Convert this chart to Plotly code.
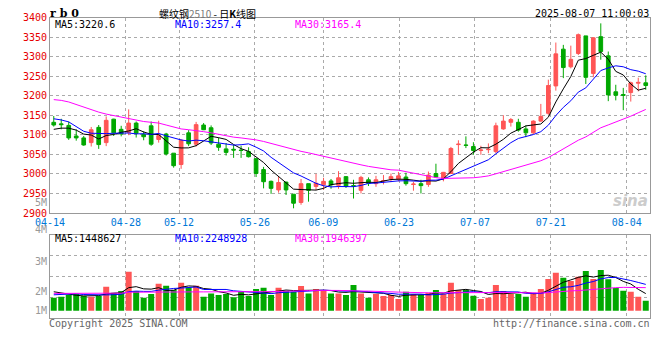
import plotly.graph_objects as go

DATES = [
    "2025-04-14", "2025-04-15", "2025-04-16", "2025-04-17", "2025-04-18", "2025-04-21", "2025-04-22",
    "2025-04-23", "2025-04-24", "2025-04-25", "2025-04-28", "2025-04-29", "2025-04-30",
    "2025-05-06", "2025-05-07", "2025-05-08", "2025-05-09", "2025-05-12", "2025-05-13", "2025-05-14",
    "2025-05-15", "2025-05-16", "2025-05-19", "2025-05-20", "2025-05-21", "2025-05-22", "2025-05-23",
    "2025-05-26", "2025-05-27", "2025-05-28", "2025-05-29", "2025-05-30",
    "2025-06-03", "2025-06-04", "2025-06-05", "2025-06-06", "2025-06-09", "2025-06-10", "2025-06-11",
    "2025-06-12", "2025-06-13", "2025-06-16", "2025-06-17", "2025-06-18", "2025-06-19", "2025-06-20",
    "2025-06-23", "2025-06-24", "2025-06-25", "2025-06-26", "2025-06-27", "2025-06-30",
    "2025-07-01", "2025-07-02", "2025-07-03", "2025-07-04", "2025-07-07", "2025-07-08", "2025-07-09",
    "2025-07-10", "2025-07-11", "2025-07-14", "2025-07-15", "2025-07-16", "2025-07-17", "2025-07-18",
    "2025-07-21", "2025-07-22", "2025-07-23", "2025-07-24", "2025-07-25", "2025-07-28", "2025-07-29",
    "2025-07-30", "2025-07-31", "2025-08-01", "2025-08-04", "2025-08-05", "2025-08-06", "2025-08-07",
]

OPEN = [3132, 3128, 3124, 3097, 3092, 3080, 3119, 3080, 3140, 3114,
        3106, 3130, 3101, 3123, 3088, 3102, 3053, 3024, 3105, 3076,
        3125, 3118, 3076, 3064, 3063, 3061, 3057, 3039, 3011, 2981,
        2959, 2979, 2948, 2927, 2975, 2968, 2972, 2982, 2971, 2993,
        2970, 2958, 2985, 2975, 2982, 2987, 2987, 2992, 2973, 2975,
        2973, 3001, 2988, 3001, 3075, 3074, 3070, 3060, 3062, 3057,
        3115, 3132, 3132, 3115, 3105, 3135, 3155, 3225, 3319, 3274,
        3308, 3353, 3257, 3351, 3302, 3210, 3203, 3208, 3232, 3233]
HIGH = [3148, 3141, 3134, 3114, 3097, 3120, 3125, 3147, 3141, 3123,
        3165, 3134, 3109, 3134, 3136, 3105, 3053, 3089, 3112, 3133,
        3130, 3124, 3093, 3079, 3074, 3072, 3068, 3039, 3018, 2983,
        2994, 2980, 2948, 2987, 2975, 3000, 2990, 2987, 3007, 2994,
        2985, 2995, 2991, 2995, 2997, 3001, 3005, 3003, 2980, 2985,
        3006, 3026, 3005, 3069, 3086, 3096, 3081, 3072, 3078, 3131,
        3150, 3143, 3141, 3124, 3137, 3179, 3241, 3336, 3330, 3328,
        3359, 3353, 3350, 3385, 3313, 3228, 3220, 3236, 3246, 3252]
LOW = [3121, 3114, 3087, 3085, 3072, 3070, 3064, 3071, 3097, 3096,
       3099, 3093, 3086, 3072, 3080, 3047, 3016, 3013, 3071, 3070,
       3112, 3074, 3059, 3047, 3041, 3041, 3042, 2992, 2963, 2949,
       2952, 2946, 2912, 2921, 2929, 2959, 2959, 2962, 2962, 2964,
       2937, 2950, 2969, 2967, 2973, 2979, 2981, 2970, 2957, 2950,
       2967, 2992, 2981, 3000, 3049, 3066, 3049, 3049, 3053, 3053,
       3113, 3121, 3108, 3094, 3102, 3133, 3151, 3213, 3245, 3270,
       3304, 3230, 3247, 3292, 3186, 3188, 3163, 3185, 3211, 3215]
CLOSE = [3125, 3126, 3092, 3092, 3074, 3113, 3075, 3137, 3105, 3102,
         3130, 3104, 3095, 3076, 3098, 3051, 3021, 3086, 3077, 3126,
         3113, 3079, 3068, 3055, 3061, 3060, 3044, 3001, 2980, 2963,
         2978, 2959, 2925, 2975, 2958, 2976, 2981, 2972, 2990, 2968,
         2969, 2991, 2976, 2985, 2983, 2993, 2995, 2975, 2974, 2970,
         2997, 2992, 3004, 3065, 3076, 3073, 3060, 3061, 3063, 3123,
         3135, 3139, 3112, 3105, 3135, 3147, 3226, 3307, 3272, 3293,
         3356, 3247, 3348, 3313, 3202, 3201, 3201, 3233, 3234, 3226]

# volume, millions of lots
VOLUME_M = [1.11, 1.20, 1.34, 1.42, 1.25, 1.20, 1.25, 2.05, 1.54, 1.68,
            3.33, 1.68, 1.11, 1.42, 2.31, 2.14, 1.77, 2.39, 1.99, 2.14,
            1.20, 1.48, 1.34, 1.42, 1.14, 1.62, 1.25, 1.85, 1.97, 1.34,
            1.97, 1.71, 1.62, 2.11, 1.48, 1.85, 1.68, 1.48, 1.48, 1.34,
            2.19, 1.48, 1.11, 1.42, 1.25, 1.34, 1.00, 1.62, 1.42, 1.34,
            1.54, 1.77, 1.42, 2.39, 1.77, 1.77, 1.28, 1.00, 1.11, 2.19,
            1.68, 1.42, 1.42, 1.20, 1.54, 1.85, 2.71, 3.25, 2.82, 2.54,
            2.91, 3.39, 2.71, 3.48, 2.68, 1.94, 1.71, 1.62, 1.20, 0.85]

# moving-average values before enough in-window history exists
MA5_HEAD = [3114, 3117, 3117, 3112]
MA10_HEAD = [3141, 3138, 3133, 3120, 3109, 3104, 3103, 3103, 3104]
MA30_HEAD = [3190, 3188, 3184, 3177, 3172, 3163, 3158, 3153, 3149, 3145,
             3142, 3138, 3134, 3132, 3130, 3125, 3119, 3115, 3113, 3111,
             3108, 3105, 3101, 3097, 3094, 3092, 3090, 3087, 3083]
VMA5_HEAD = [1.62, 1.50, 1.40, 1.32]
VMA10_HEAD = [1.36, 1.38, 1.45, 1.45, 1.38, 1.36, 1.35, 1.35, 1.37]
VMA30_HEAD = [1.48, 1.48, 1.48, 1.48, 1.48, 1.48, 1.48, 1.48, 1.49, 1.50,
              1.58, 1.59, 1.59, 1.60, 1.60, 1.60, 1.61, 1.61, 1.61, 1.61,
              1.61, 1.62, 1.62, 1.62, 1.62, 1.62, 1.62, 1.62, 1.63]

TICK_DATES = ["2025-04-14", "2025-04-28", "2025-05-12", "2025-05-26", "2025-06-09",
              "2025-06-23", "2025-07-07", "2025-07-21", "2025-08-04"]
PRICE_TICKS = [2900, 2950, 3000, 3050, 3100, 3150, 3200, 3250, 3300, 3350, 3400]
VOL_LABELS = ["5M", "4M", "3M", "2M", "1M"]

TITLE_CODE = "r b 0"
TITLE_HTML = "螺纹钢<span style='color:#777777'>2510</span> - 日<b>K</b>线图"
TIMESTAMP = "2025-08-07 11:00:03"
PRICE_LEGEND = ["MA5:3220.6", "MA10:3257.4", "MA30:3165.4"]
VOL_LEGEND = ["MA5:1448627", "MA10:2248928", "MA30:1946397"]


def rolling(vals, n, head):
    out = list(head)
    for i in range(len(head), len(vals)):
        out.append(sum(vals[i - n + 1:i + 1]) / n)
    return out


RED = "#ff5555"
GREEN = "#00a800"
MA_COLORS = ["#000000", "#0000ff", "#ff00ff"]
MONO = "DejaVu Sans Mono"

n = len(DATES)
idx = list(range(n))

ma = [rolling(CLOSE, 5, MA5_HEAD), rolling(CLOSE, 10, MA10_HEAD), rolling(CLOSE, 30, MA30_HEAD)]
vma = [rolling(VOLUME_M, 5, VMA5_HEAD), rolling(VOLUME_M, 10, VMA10_HEAD), rolling(VOLUME_M, 30, VMA30_HEAD)]
bar_colors = [RED if c >= o else GREEN for o, c in zip(OPEN, CLOSE)]

fig = go.Figure()
fig.add_trace(go.Candlestick(
    x=idx, open=OPEN, high=HIGH, low=LOW, close=CLOSE,
    increasing=dict(line=dict(color=RED, width=1), fillcolor=RED),
    decreasing=dict(line=dict(color=GREEN, width=1), fillcolor=GREEN),
    whiskerwidth=0, xaxis="x", yaxis="y", showlegend=False, hoverinfo="skip"))
for series, col in zip(ma, MA_COLORS):
    fig.add_trace(go.Scatter(x=idx, y=series, mode="lines", line=dict(color=col, width=1),
                             xaxis="x", yaxis="y", showlegend=False, hoverinfo="skip"))
fig.add_trace(go.Bar(x=idx, y=VOLUME_M, marker=dict(color=bar_colors, line=dict(width=0)),
                     width=0.8, xaxis="x2", yaxis="y2", showlegend=False, hoverinfo="skip"))
for series, col in zip(vma, MA_COLORS):
    fig.add_trace(go.Scatter(x=idx, y=series, mode="lines", line=dict(color=col, width=1),
                             xaxis="x2", yaxis="y2", showlegend=False, hoverinfo="skip"))

# The page body has an 8px default margin; the figure is sized so that
# page pixel coordinates (X, Y) of the 660x360 window map onto it.
OFF = 8
FW, FH = 660 - 2 * OFF, 360 - 2 * OFF

X0, X1 = 50, 649.5
MAIN_TOP, MAIN_BOT = 17.5, 213
VOL_TOP, VOL_BOT = 234.7, 318.3
VOL_RANGE = [-0.65, 6.5]


def py(Y):
    return 1 - (Y - OFF) / FH


def px(X):
    return (X - OFF) / FW


step = n / (n - 1)
tickvals = [-0.5 + DATES.index(d) * step for d in TICK_DATES]
ticktext = [d[5:] for d in TICK_DATES]

grid = dict(showgrid=True, gridcolor="#aaaaaa", griddash="dot", gridwidth=1, automargin=False,
            showline=True, linecolor="#999999", linewidth=1, mirror=True, zeroline=False, ticks="")

vlo, vhi = VOL_RANGE
fig.update_layout(
    width=FW, height=FH, margin=dict(l=0, r=0, t=0, b=0),
    paper_bgcolor="white", plot_bgcolor="white",
    xaxis=dict(domain=[px(X0), px(X1)], range=[-0.5, n - 0.5], tickvals=tickvals, ticktext=ticktext,
               tickfont=dict(family=MONO, size=10, color="#0078d7"), rangeslider=dict(visible=False),
               **grid),
    yaxis=dict(domain=[py(MAIN_BOT), py(MAIN_TOP)], range=[PRICE_TICKS[0], PRICE_TICKS[-1]],
               tickvals=PRICE_TICKS, tickfont=dict(family=MONO, size=10, color="#e60000"), **grid),
    xaxis2=dict(domain=[px(X0), px(X1)], range=[-0.5, n - 0.5], tickvals=tickvals,
                showticklabels=False, anchor="y2", matches="x", **grid),
    yaxis2=dict(domain=[py(VOL_BOT), py(VOL_TOP)], range=VOL_RANGE,
                tickvals=[vlo + k * (vhi - vlo) / 4 for k in (1, 2, 3)], showticklabels=False,
                anchor="x2", **grid),
    bargap=0.2,
)

ann = []


def add(text, X, Y, color="#000000", size=10, family=MONO, xanchor="left", yanchor="middle"):
    ann.append(dict(text=text, x=px(X), y=py(Y), xref="paper", yref="paper", showarrow=False,
                    xanchor=xanchor, yanchor=yanchor, borderpad=0,
                    font=dict(family=family, size=size, color=color)))


add("<b>" + TITLE_CODE + "</b>", 49, 13.5, size=11, family="DejaVu Serif")
add(TITLE_HTML, 207, 13.5, size=10, family="Noto Sans CJK SC", xanchor="center")
add(TIMESTAMP, 650, 13.5, xanchor="right")
for t, X, c in zip(PRICE_LEGEND, (54, 174, 294), MA_COLORS):
    add(t, X, 25, color=c)
for t, X, c in zip(VOL_LEGEND, (54, 174, 294), MA_COLORS):
    add(t, X, 238.5, color=c)
for t, Y in zip(VOL_LABELS, (202.5, 229.3, 261.3, 291, 310.3)):
    add(t, 48, Y, color="#999999", xanchor="right")
add("Copyright 2025 SINA.COM", 48, 323.5, color="#666666")
add("http://finance.sina.com.cn", 651, 323.5, color="#666666", xanchor="right")
add("<b><i>sina</i></b>", 630, 201, color="#cccccc", size=15, family="DejaVu Sans", xanchor="center")
fig.update_layout(annotations=ann)

fig.write_html("out.html")
